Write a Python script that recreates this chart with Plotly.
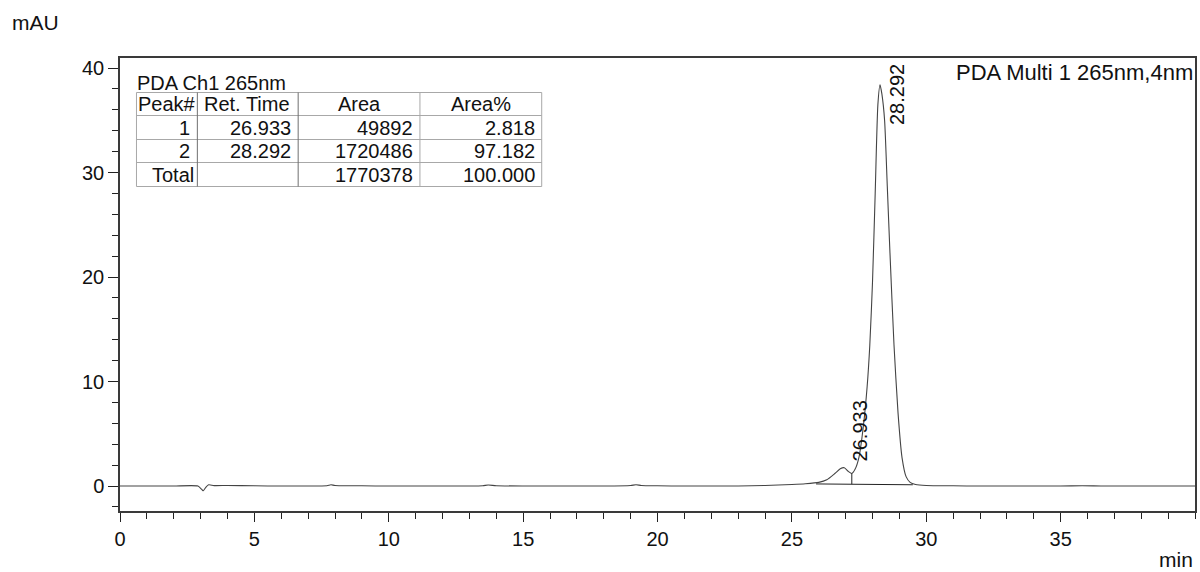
import plotly.graph_objects as go

# ---------------- data ----------------
time_min = [0.0, 1.0, 2.0, 2.9, 3.05, 3.1, 3.2, 3.3, 3.5, 4.0, 5.0, 6.0, 7.0, 7.7, 7.85, 8.0,
            9.0, 10.0, 11.0, 12.0, 13.0, 13.5, 13.7, 14.0, 15.0, 16.0, 17.0, 18.0, 19.0,
            19.2, 19.4, 20.0, 21.0, 22.0, 23.0, 24.0, 25.0, 25.5, 26.0, 26.3, 26.6, 26.8,
            26.95, 27.1, 27.23, 27.35, 27.5, 27.65, 27.8, 27.9, 28.0, 28.1, 28.2, 28.28,
            28.35, 28.45, 28.55, 28.65, 28.8, 28.95, 29.1, 29.25, 29.4, 29.6, 30.0, 31.0,
            32.0, 33.0, 34.0, 35.0, 35.8, 36.5, 37.0, 38.0, 39.0, 40.0]
signal_mau = [0.0, 0.0, 0.0, 0.0, -0.35, -0.45, -0.1, 0.12, 0.04, 0.05, 0.02, 0.0, 0.0, 0.03,
              0.12, 0.05, 0.02, 0.0, 0.0, 0.0, 0.0, 0.03, 0.1, 0.03, 0.0, 0.0, 0.0, 0.0, 0.05,
              0.12, 0.05, 0.02, 0.0, 0.0, 0.0, 0.05, 0.15, 0.22, 0.35, 0.6, 1.2, 1.65,
              1.75, 1.4, 1.2, 1.6, 2.8, 5.5, 9.5, 13.5, 19.5, 28.0, 36.5, 38.4,
              37.5, 35.0, 28.7, 22.3, 13.5, 7.0, 2.7, 0.9, 0.35, 0.15, 0.05, 0.02,
              0.0, 0.0, 0.0, 0.0, 0.03, 0.0, 0.0, 0.0, 0.0, 0.0]

# integration baseline and peak separation (drop line)
base_time = [25.9, 29.5]
base_value = [0.2, 0.12]
drop_time = [27.23, 27.23]
drop_value = [0.18, 1.2]

# peak labels
peak_rt_labels = ["26.933", "28.292"]
peak_label_x = [27.53, 28.91]
peak_label_y = [2.2, 34.4]

# peak table
table_title = "PDA Ch1 265nm"
table_header = ["Peak#", "Ret. Time", "Area", "Area%"]
table_peak = ["1", "2", "Total"]
table_rt = ["26.933", "28.292", ""]
table_area = ["49892", "1720486", "1770378"]
table_area_pct = ["2.818", "97.182", "100.000"]

x_ticks = [0, 5, 10, 15, 20, 25, 30, 35]
y_ticks = [0, 10, 20, 30, 40]

# ---------------- layout constants ----------------
W, H = 1200, 572
ML, MR, MT, MB = 120, 3, 58, 61
PW, PH = W - ML - MR, H - MT - MB
FONT = "Liberation Sans, Arial, sans-serif"
TXT = "#111111"


def px(x):
    return (x - ML) / PW


def py(y):
    return (H - MB - y) / PH


fig = go.Figure()
fig.add_trace(go.Scatter(x=time_min, y=signal_mau, mode="lines",
                         line=dict(color="#444444", width=1.1, shape="spline", smoothing=0.6),
                         hoverinfo="skip", showlegend=False))
fig.add_trace(go.Scatter(x=base_time, y=base_value, mode="lines",
                         line=dict(color="#222222", width=1), hoverinfo="skip", showlegend=False))
fig.add_trace(go.Scatter(x=drop_time, y=drop_value, mode="lines",
                         line=dict(color="#222222", width=1), hoverinfo="skip", showlegend=False))

annotations = []
for lab, lx, ly in zip(peak_rt_labels, peak_label_x, peak_label_y):
    annotations.append(dict(x=lx, y=ly, xref="x", yref="y", text=lab, textangle=-90,
                            showarrow=False, xanchor="center", yanchor="bottom",
                            font=dict(family=FONT, size=20, color=TXT)))

annotations.append(dict(x=px(1197), y=py(73), xref="paper", yref="paper",
                        text="PDA Multi 1 265nm,4nm", showarrow=False,
                        xanchor="right", yanchor="middle",
                        font=dict(family=FONT, size=22, color=TXT)))
annotations.append(dict(x=px(10), y=py(22), xref="paper", yref="paper", text="mAU",
                        showarrow=False, xanchor="left", yanchor="middle",
                        font=dict(family=FONT, size=21, color=TXT)))
annotations.append(dict(x=px(1197), y=py(559), xref="paper", yref="paper", text="min",
                        showarrow=False, xanchor="right", yanchor="middle",
                        font=dict(family=FONT, size=21, color=TXT)))

# table geometry (pixels)
col_edges = [136.5, 197.5, 298.5, 420.5, 542.5]
row_edges = [92.5, 115.5, 139.5, 162.5, 186.5]
shapes = []
for ry in row_edges:
    shapes.append(dict(type="line", xref="paper", yref="paper", x0=px(col_edges[0]), x1=px(col_edges[-1]),
                       y0=py(ry), y1=py(ry), line=dict(color="#a8a8a8", width=1)))
for i, cx in enumerate(col_edges):
    shapes.append(dict(type="line", xref="paper", yref="paper", x0=px(cx), x1=px(cx),
                       y0=py(row_edges[0]), y1=py(row_edges[-1]),
                       line=dict(color="#707070" if i in (1, 2) else "#a8a8a8", width=1)))

tf = dict(family=FONT, size=20, color=TXT)
annotations.append(dict(x=px(135), y=py(83), xref="paper", yref="paper", text=table_title,
                        showarrow=False, xanchor="left", yanchor="middle", font=tf))
hdr_y = (row_edges[0] + row_edges[1]) / 2
annotations.append(dict(x=px(col_edges[0] + 0), y=py(hdr_y), xref="paper", yref="paper",
                        text=table_header[0], showarrow=False, xanchor="left", yanchor="middle", font=tf))
annotations.append(dict(x=px(col_edges[1] + 5), y=py(hdr_y), xref="paper", yref="paper",
                        text=table_header[1], showarrow=False, xanchor="left", yanchor="middle", font=tf))
for j in (2, 3):
    annotations.append(dict(x=px((col_edges[j] + col_edges[j + 1]) / 2), y=py(hdr_y),
                            xref="paper", yref="paper", text=table_header[j], showarrow=False,
                            xanchor="center", yanchor="middle", font=tf))
for r in range(3):
    yc = (row_edges[r + 1] + row_edges[r + 2]) / 2
    cells = [table_peak[r], table_rt[r], table_area[r], table_area_pct[r]]
    for j, val in enumerate(cells):
        if not val:
            continue
        pad = 5 if not (j == 0 and r == 2) else 1
        annotations.append(dict(x=px(col_edges[j + 1] - pad), y=py(yc), xref="paper", yref="paper",
                                text=val, showarrow=False, xanchor="right", yanchor="middle", font=tf))

axis_common = dict(showline=True, mirror=True, linecolor="#3a3a3a", linewidth=1.5,
                   ticks="outside", tickcolor="#222222", tickwidth=1.3,
                   showgrid=False, zeroline=False,
                   tickfont=dict(family=FONT, size=20, color=TXT))

fig.update_layout(
    width=W, height=H,
    margin=dict(l=ML, r=MR, t=MT, b=MB, pad=0),
    paper_bgcolor="white", plot_bgcolor="white",
    showlegend=False,
    xaxis=dict(range=[0, 40], tickvals=x_ticks, ticktext=[str(v) for v in x_ticks], ticklen=9,
               minor=dict(dtick=1, tick0=0, ticklen=6, ticks="outside", tickcolor="#222222", tickwidth=1.3),
               **axis_common),
    yaxis=dict(range=[-2.39, 40.96], tickvals=y_ticks, ticktext=[str(v) for v in y_ticks], ticklen=10,
               minor=dict(dtick=2, tick0=0, ticklen=6, ticks="outside", tickcolor="#222222", tickwidth=1.3),
               **axis_common),
    annotations=annotations,
    shapes=shapes,
)

fig.write_html("out.html", config={"displayModeBar": False},
               post_script="document.body.style.margin='0';document.body.style.overflow='hidden';")
